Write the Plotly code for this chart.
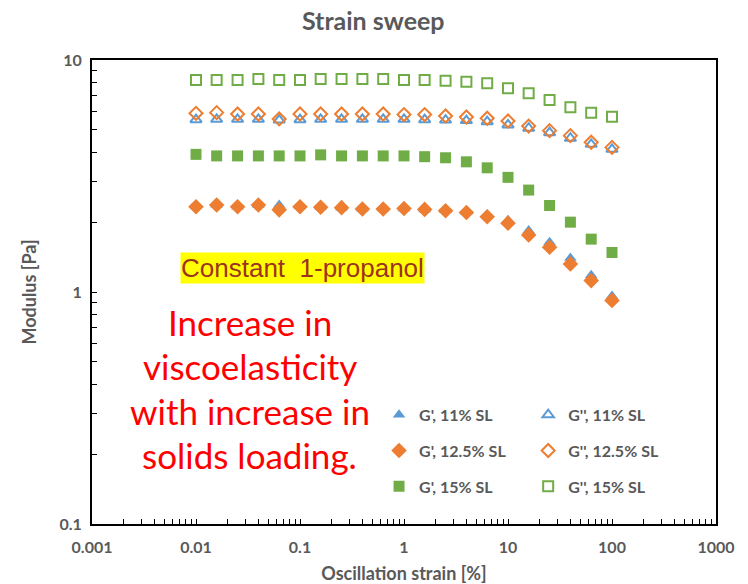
import plotly.graph_objects as go

# Oscillation strain [%] (5 points per decade)
strain = [0.01, 0.0158, 0.0251, 0.0398, 0.0631, 0.1, 0.158, 0.251, 0.398, 0.631,
          1, 1.58, 2.51, 3.98, 6.31, 10, 15.8, 25.1, 39.8, 63.1, 100]

# Storage modulus G' [Pa]
g1_11 = [2.36, 2.38, 2.33, 2.37, 2.37, 2.34, 2.33, 2.31, 2.29, 2.29, 2.29,
         2.27, 2.25, 2.21, 2.15, 2.04, 1.84, 1.64, 1.40, 1.18, 0.96]
g1_125 = [2.33, 2.37, 2.33, 2.37, 2.26, 2.33, 2.32, 2.31, 2.28, 2.28, 2.29,
          2.27, 2.24, 2.20, 2.11, 1.98, 1.76, 1.56, 1.32, 1.12, 0.92]
g1_15 = [3.92, 3.86, 3.86, 3.86, 3.86, 3.86, 3.90, 3.86, 3.86, 3.86, 3.86,
         3.83, 3.79, 3.64, 3.43, 3.12, 2.75, 2.36, 2.00, 1.69, 1.48]

# Loss modulus G'' [Pa]
g2_11 = [5.53, 5.55, 5.55, 5.55, 5.51, 5.53, 5.55, 5.55, 5.55, 5.55, 5.55,
         5.53, 5.51, 5.48, 5.42, 5.25, 5.08, 4.86, 4.60, 4.33, 4.12]
g2_125 = [5.89, 5.93, 5.85, 5.85, 5.57, 5.85, 5.85, 5.85, 5.85, 5.85, 5.82,
          5.82, 5.74, 5.68, 5.61, 5.46, 5.19, 4.96, 4.72, 4.42, 4.20]
g2_15 = [8.20, 8.20, 8.20, 8.28, 8.20, 8.20, 8.28, 8.28, 8.28, 8.28, 8.20,
         8.20, 8.14, 8.06, 7.94, 7.55, 7.19, 6.72, 6.25, 5.93, 5.70]

x_ticks = [0.001, 0.01, 0.1, 1, 10, 100, 1000]
x_tick_text = ["0.001", "0.01", "0.1", "1", "10", "100", "1000"]
y_ticks = [0.1, 1, 10]
y_tick_text = ["0.1", "1", "10"]

message_lines = ["Increase in", "viscoelasticity", "with increase in", "solids loading."]

BLUE = "#5B9BD5"
ORANGE = "#ED7D31"
GREEN = "#70AD47"
GRAY = "#595959"
BOLD = dict(family="Lato", weight="bold", color=GRAY)

series = [
    ("G', 11% SL", g1_11, "triangle-up", BLUE, "legend", 11),
    ("G'', 11% SL", g2_11, "triangle-up-open", BLUE, "legend2", 10),
    ("G', 12.5% SL", g1_125, "diamond", ORANGE, "legend", 12),
    ("G'', 12.5% SL", g2_125, "diamond-open", ORANGE, "legend2", 10),
    ("G', 15% SL", g1_15, "square", GREEN, "legend", 11),
    ("G'', 15% SL", g2_15, "square-open", GREEN, "legend2", 10),
]

fig = go.Figure()
for name, vals, sym, col, leg, size in series:
    fig.add_trace(go.Scatter(
        x=strain, y=vals, mode="markers", name=name,
        legend=leg, legendgroup=name,
        marker=dict(symbol=sym, size=size, color=col,
                    line=dict(color=col, width=2 if "open" in sym else 0)),
    ))

minor_vals = [m * 10 ** e for e in range(-3, 3) for m in range(2, 10)]
minor_vals_y = [m * 10 ** e for e in range(-1, 1) for m in range(2, 10)]

axis_common = dict(
    type="log", showgrid=False, zeroline=False, automargin=False,
    showline=True, linecolor="black", linewidth=2, mirror=True,
    ticks="inside", ticklen=5, tickwidth=1, tickcolor="black",
    tickfont=dict(size=16, **BOLD),
)

fig.update_xaxes(
    range=[-3, 3], tickvals=x_ticks, ticktext=x_tick_text, ticklabelstandoff=8,
    minor=dict(tickvals=minor_vals, ticks="inside", ticklen=5, tickcolor="black", showgrid=False),
    title=dict(text="Oscillation strain [%]", font=dict(size=18, **BOLD), standoff=15),
    **axis_common,
)
fig.update_yaxes(
    range=[-1, 1], tickvals=y_ticks, ticktext=y_tick_text, ticklabelstandoff=5,
    minor=dict(tickvals=minor_vals_y, ticks="inside", ticklen=5, tickcolor="black", showgrid=False),
    title=dict(text="Modulus [Pa]", font=dict(size=18, **BOLD), standoff=18),
    **axis_common,
)

legend_style = dict(
    font=dict(size=16, **BOLD), bgcolor="rgba(0,0,0,0)",
    tracegroupgap=12, yanchor="top", xanchor="left",
)

annotations = [
    dict(text="Constant  1-propanol", xref="paper", yref="paper", x=0.337, y=0.551,
         xanchor="center", yanchor="middle", showarrow=False, bgcolor="#FFFF00", borderpad=0,
         font=dict(family="Liberation Sans", size=26, color="#9C3320")),
]
for line, ypos in zip(message_lines, [0.435, 0.3405, 0.2435, 0.1487]):
    annotations.append(dict(
        text=line, xref="paper", yref="paper", x=0.253, y=ypos,
        xanchor="center", yanchor="middle", showarrow=False,
        font=dict(family="Lato", size=35, color="#FF0000"),
    ))

fig.update_layout(
    width=748, height=584,
    margin=dict(l=92, r=32, t=60, b=60),
    paper_bgcolor="white", plot_bgcolor="white",
    title=dict(text="Strain sweep", x=0.499, xanchor="center", y=0.964, yanchor="middle",
               font=dict(size=25, **BOLD)),
    legend=dict(x=0.46, y=0.272, **legend_style),
    legend2=dict(x=0.699, y=0.272, **legend_style),
    annotations=annotations,
)

fig.write_html("out.html")
